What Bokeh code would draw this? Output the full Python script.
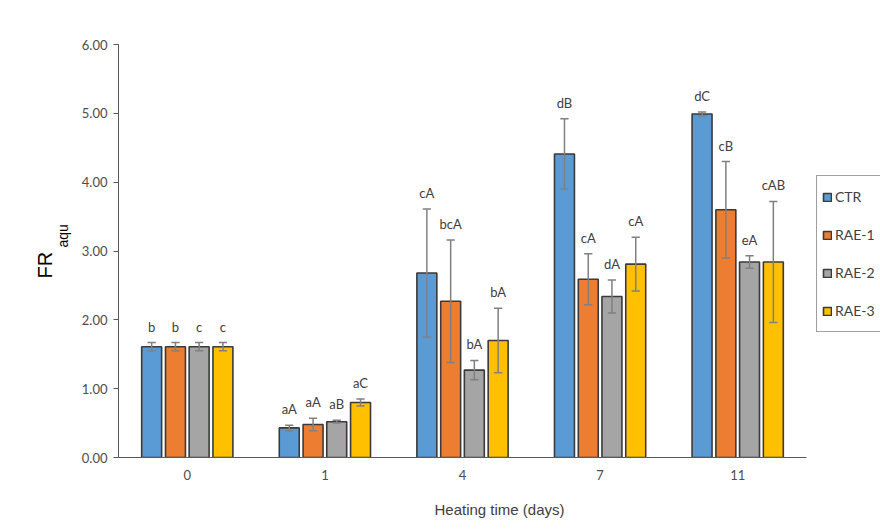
import math
from bokeh.plotting import figure
from bokeh.models import (ColumnDataSource, FixedTicker, NumeralTickFormatter,
                          Legend, LegendItem, Title, Range1d)
from bokeh.transform import dodge
from bokeh.core.properties import value
from bokeh.embed import file_html
from bokeh.resources import INLINE

# ---- data ----
days = ["0", "1", "4", "7", "11"]
series_names = ["CTR", "RAE-1", "RAE-2", "RAE-3"]

ctr = [1.61, 0.43, 2.68, 4.41, 4.99]
ctr_err = [0.06, 0.04, 0.93, 0.51, 0.03]
ctr_lab = ["b", "aA", "cA", "dB", "dC"]

rae1 = [1.61, 0.48, 2.27, 2.59, 3.60]
rae1_err = [0.06, 0.09, 0.89, 0.37, 0.70]
rae1_lab = ["b", "aA", "bcA", "cA", "cB"]

rae2 = [1.61, 0.52, 1.27, 2.34, 2.84]
rae2_err = [0.06, 0.02, 0.14, 0.24, 0.09]
rae2_lab = ["c", "aB", "bA", "dA", "eA"]

rae3 = [1.61, 0.80, 1.70, 2.81, 2.84]
rae3_err = [0.06, 0.05, 0.47, 0.39, 0.88]
rae3_lab = ["c", "aC", "bA", "cA", "cAB"]

y_ticks = [0, 1, 2, 3, 4, 5, 6]

colors = ["#5B9BD5", "#ED7D31", "#A5A5A5", "#FFC000"]
offsets = [-0.259, -0.086, 0.086, 0.259]
bar_w = 0.145
cap = 0.03

FONT_T = "Lato"
FONT_A = "Liberation Sans"

n = len(days)
centers = [i + 0.5 for i in range(n)]           # category slots on the x scale
x_end = n + 74 / 137.6                           # room on the right for the legend

p = figure(width=880, height=532, output_backend="svg", toolbar_location=None,
           x_range=Range1d(0, x_end), y_range=Range1d(0, 6),
           min_border_left=118, min_border_top=44, min_border_bottom=75, min_border_right=0)
p.outline_line_color = None
p.xgrid.grid_line_color = None
p.ygrid.grid_line_color = None
p.background_fill_color = "white"
p.border_fill_color = "white"

means = [ctr, rae1, rae2, rae3]
errs = [ctr_err, rae1_err, rae2_err, rae3_err]
labs = [ctr_lab, rae1_lab, rae2_lab, rae3_lab]

items = []
for name, m, e, lb, col, off in zip(series_names, means, errs, labs, colors, offsets):
    src = ColumnDataSource(dict(
        x=centers, top=m,
        hi=[a + b for a, b in zip(m, e)],
        lo=[a - b for a, b in zip(m, e)],
        lab=lb))
    r = p.vbar(x=dodge("x", off), top="top", width=bar_w, bottom=0,
               source=src, fill_color=col, line_color="#3a3a3a", line_width=1.6)
    items.append(LegendItem(label=name, renderers=[r]))
    p.segment(x0=dodge("x", off), y0="lo", x1=dodge("x", off), y1="hi",
              source=src, line_color="#808080", line_width=1.5)
    for yk in ("hi", "lo"):
        p.segment(x0=dodge("x", off - cap), y0=yk, x1=dodge("x", off + cap), y1=yk,
                  source=src, line_color="#808080", line_width=1.5)
    p.text(x=dodge("x", off), y="hi", text="lab", source=src,
           y_offset=-8, text_align="center", text_baseline="bottom",
           text_font=value(FONT_T), text_font_size="13px", text_color="#404040")

legend = Legend(items=items, location=(698, 125), orientation="vertical",
                glyph_width=10, glyph_height=10, label_height=31, spacing=7,
                padding=5, label_standoff=3, label_width=60,
                label_text_font=FONT_T, label_text_font_size="14px",
                label_text_color="#404040",
                border_line_color="#404040", border_line_width=1,
                background_fill_color="white", background_fill_alpha=1.0)
p.add_layout(legend, "center")

# axes
p.yaxis.ticker = FixedTicker(ticks=y_ticks)
p.yaxis.formatter = NumeralTickFormatter(format="0.00")
p.yaxis.major_tick_out = 5
p.yaxis.major_tick_in = 0
p.yaxis.minor_tick_line_color = None
p.yaxis.major_label_standoff = 6
p.yaxis.axis_line_color = "#595959"
p.yaxis.major_tick_line_color = "#595959"
p.yaxis.major_label_text_font = FONT_T
p.yaxis.major_label_text_font_size = "13px"
p.yaxis.major_label_text_color = "#4d4d4d"

p.xaxis.ticker = FixedTicker(ticks=centers)
p.xaxis.major_label_overrides = {c: d for c, d in zip(centers, days)}
p.xaxis.bounds = (0, n)
p.xaxis.major_tick_out = 0
p.xaxis.major_tick_in = 0
p.xaxis.minor_tick_line_color = None
p.xaxis.axis_line_color = "#595959"
p.xaxis.major_label_standoff = 12
p.xaxis.major_label_text_font = FONT_T
p.xaxis.major_label_text_font_size = "13px"
p.xaxis.major_label_text_color = "#4d4d4d"
p.xaxis.axis_label = "Heating time (days)"
p.xaxis.axis_label_text_font = FONT_A
p.xaxis.axis_label_text_font_style = "normal"
p.xaxis.axis_label_text_font_size = "15px"
p.xaxis.axis_label_text_color = "#404040"
p.xaxis.axis_label_standoff = 18

# y axis title: FR with subscript "aqu" (two stacked titles on the left side)
p.add_layout(Title(text="aqu", align="left", offset=210, standoff=16,
                   text_font=FONT_A, text_font_size="14px", text_font_style="normal",
                   text_color="#000000"), "left")
p.add_layout(Title(text="FR", align="left", offset=179, standoff=-22,
                   text_font=FONT_A, text_font_size="20px", text_font_style="normal",
                   text_color="#000000"), "left")

open("out.html", "w").write(file_html(p, INLINE))
